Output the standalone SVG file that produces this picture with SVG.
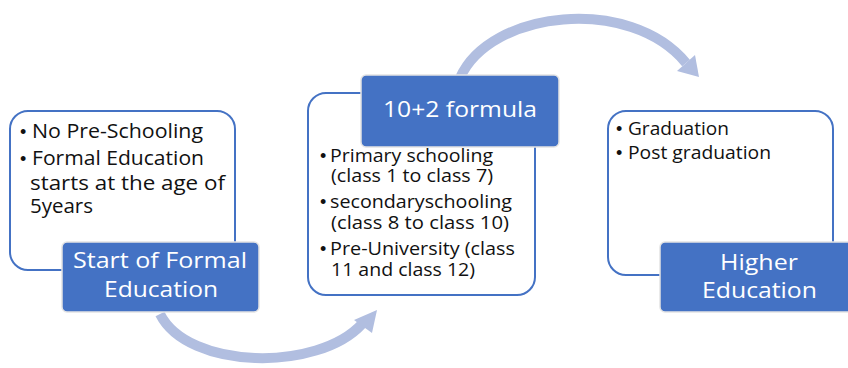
<svg xmlns="http://www.w3.org/2000/svg" width="848" height="368" viewBox="0 0 848 368">
  <defs>
    <style>
      .panel { fill: #ffffff; stroke: #4472C4; stroke-width: 2; }
      .title { fill: #4472C4; stroke: #E4E4E4; stroke-width: 1.5; }
      .flow { fill: none; stroke: #B1BEE0; stroke-width: 10; }
      .head { fill: #B1BEE0; }
      .body { font-family: "Open Sans", "DejaVu Sans", sans-serif; fill: #111111; }
      .dot { font-family: "Liberation Sans", Arial, sans-serif; fill: #111111; font-size: 18px; }
      .cap { font-family: "Open Sans", "DejaVu Sans", sans-serif; fill: #ffffff; font-size: 21px; }
    </style>
  </defs>
  <rect width="848" height="368" fill="#ffffff"/>

  <!-- curved flow arrows between stages -->
  <g id="connectors">
    <path class="flow" d="M160,314 C188,370 318,372 362,324"/>
    <polygon class="head" points="377,310 354,320 372,333"/>
    <path class="flow" d="M460,78 C490,10 630,-5 686,63"/>
    <polygon class="head" points="699,77 677,71 695,55"/>
  </g>

  <!-- stage 1 -->
  <g id="start-formal-education">
    <rect class="panel" x="10" y="111" width="225" height="159" rx="18"/>
    <text class="dot" x="20" y="138">•</text>
    <text class="dot" x="20" y="165">•</text>
    <g class="body" font-size="19.5">
      <text x="32" y="138" textLength="171" lengthAdjust="spacingAndGlyphs">No Pre-Schooling</text>
      <text x="32" y="165" textLength="172" lengthAdjust="spacingAndGlyphs">Formal Education</text>
      <text x="30" y="190" textLength="195" lengthAdjust="spacingAndGlyphs">starts at the age of</text>
      <text x="30" y="213" textLength="63" lengthAdjust="spacingAndGlyphs">5years</text>
    </g>
    <rect class="title" x="62" y="242" width="197" height="70" rx="5"/>
    <text class="cap" x="73" y="268" textLength="174" lengthAdjust="spacingAndGlyphs">Start of Formal</text>
    <text class="cap" x="104" y="297" textLength="114" lengthAdjust="spacingAndGlyphs">Education</text>
  </g>

  <!-- stage 2 -->
  <g id="ten-plus-two">
    <rect class="panel" x="308" y="93" width="227" height="202" rx="18"/>
    <rect class="title" x="361" y="75" width="198" height="72" rx="5"/>
    <text class="cap" x="383" y="117" textLength="154" lengthAdjust="spacingAndGlyphs">10+2 formula</text>
    <text class="dot" x="320" y="162">•</text>
    <text class="dot" x="320" y="208">•</text>
    <text class="dot" x="320" y="255">•</text>
    <g class="body" font-size="18">
      <text x="330" y="162" textLength="163" lengthAdjust="spacingAndGlyphs">Primary schooling</text>
      <text x="331" y="182" textLength="162" lengthAdjust="spacingAndGlyphs">(class 1 to class 7)</text>
      <text x="330" y="208" textLength="182" lengthAdjust="spacingAndGlyphs">secondaryschooling</text>
      <text x="331" y="229" textLength="178" lengthAdjust="spacingAndGlyphs">(class 8 to class 10)</text>
      <text x="330" y="255" textLength="185" lengthAdjust="spacingAndGlyphs">Pre-University (class</text>
      <text x="331" y="276" textLength="144" lengthAdjust="spacingAndGlyphs">11 and class 12)</text>
    </g>
  </g>

  <!-- stage 3 -->
  <g id="higher-education">
    <rect class="panel" x="608" y="111" width="225" height="164" rx="18"/>
    <text class="dot" x="616" y="135">•</text>
    <text class="dot" x="616" y="159">•</text>
    <g class="body" font-size="19">
      <text x="628" y="135" textLength="101" lengthAdjust="spacingAndGlyphs">Graduation</text>
      <text x="628" y="159" textLength="143" lengthAdjust="spacingAndGlyphs">Post graduation</text>
    </g>
    <rect class="title" x="660" y="242" width="200" height="70" rx="5"/>
    <text class="cap" x="720" y="270" textLength="78" lengthAdjust="spacingAndGlyphs">Higher</text>
    <text class="cap" x="702" y="298" textLength="115" lengthAdjust="spacingAndGlyphs">Education</text>
  </g>
</svg>
